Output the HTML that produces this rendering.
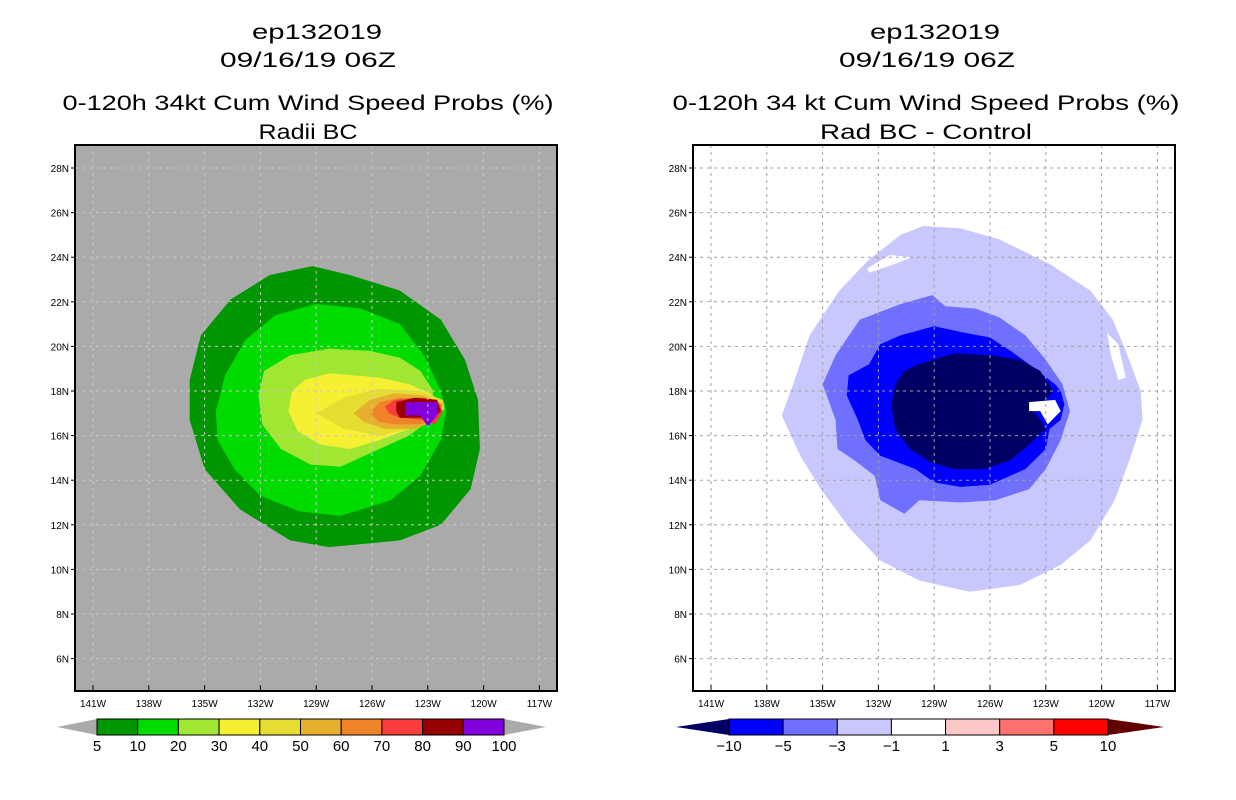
<!DOCTYPE html>
<html><head><meta charset="utf-8"><style>
html,body{margin:0;padding:0;background:#fff;}
svg{display:block;font-family:"Liberation Sans",sans-serif;}
</style></head><body>
<svg id="chart" width="1236" height="800" viewBox="0 0 1236 800"></svg>
<script>
const latTicks=[28,26,24,22,20,18,16,14,12,10,8,6];
const lonTicks=[141,138,135,132,129,126,123,120,117];
const leftLevels=['5','10','20','30','40','50','60','70','80','90','100'];
const leftColors=['#009600','#00dc00','#a0e632','#f5f032','#e6dc32','#e6af2d','#f08228','#fa3c3c','#960000','#8200dc'];
const rightLevels=['\u221210','\u22125','\u22123','\u22121','1','3','5','10'];
const rightColors=['#000064','#0000ff','#7070ff','#c8c8ff','#ffffff','#ffc8c8','#ff7070','#ff0000','#640000'];
// left contours [lonW, latN]
const p5=[[129.2,23.6],[127.2,23.2],[124.5,22.5],[122.3,21.2],[121.0,19.4],[120.3,17.6],[120.2,15.4],[120.7,13.6],[122.3,12.0],[124.5,11.3],[128.3,11.0],[130.4,11.3],[133.1,12.7],[135.0,14.5],[135.8,16.7],[135.8,18.5],[135.2,20.5],[133.6,22.1],[131.5,23.2]];
const p10=[[129.0,21.9],[126.6,21.7],[124.5,21.0],[123.2,19.6],[122.3,18.0],[122.0,17.1],[122.3,15.8],[123.4,14.2],[125.0,13.1],[127.7,12.4],[129.9,12.6],[132.0,13.3],[133.4,14.5],[134.3,15.8],[134.4,17.1],[133.9,18.7],[132.8,20.3],[131.2,21.4]];
const p20=[[128.3,19.9],[126.1,19.8],[124.5,19.5],[123.4,18.9],[122.7,18.0],[122.9,16.7],[124.0,16.0],[125.6,15.4],[127.7,14.6],[129.3,14.7],[130.9,15.4],[131.9,16.5],[132.1,17.8],[131.8,18.9],[130.4,19.6]];
const p30=[[128.3,18.8],[125.6,18.6],[124.0,18.3],[122.9,17.9],[122.1,17.4],[122.6,16.7],[124.0,16.3],[125.6,15.8],[127.2,15.4],[128.8,15.6],[130.0,16.2],[130.5,17.1],[130.3,18.0],[129.6,18.5]];
const p40=[[129.0,17.0],[127.5,17.7],[125.6,18.1],[123.4,18.0],[122.2,17.6],[122.1,17.2],[122.6,16.6],[124.0,16.3],[125.6,16.0],[127.5,16.3]];
const p50=[[127.0,17.0],[126.1,17.6],[124.8,17.9],[123.2,17.8],[122.2,17.4],[122.5,16.7],[123.7,16.3],[125.3,16.3],[126.4,16.6]];
const p60=[[126.1,17.0],[125.6,17.5],[124.5,17.7],[123.2,17.7],[122.2,17.4],[122.5,16.7],[123.4,16.5],[124.8,16.5],[125.6,16.6]];
const p70=[[125.3,17.3],[124.8,17.6],[123.4,17.7],[122.5,17.6],[122.2,17.1],[122.6,16.5],[123.2,16.7],[124.5,16.8],[125.1,17.0]];
const p80=[[124.7,17.5],[123.7,17.7],[122.5,17.6],[122.3,17.1],[122.9,16.6],[123.2,16.8],[124.5,16.8],[124.7,17.1]];
const p90=[[124.2,17.5],[122.5,17.5],[122.5,16.9],[123.0,16.4],[123.4,16.9],[124.2,16.9]];
// right contours
const dLight=[[129.6,25.4],[127.6,25.3],[125.5,24.8],[122.8,23.7],[120.6,22.5],[119.4,21.2],[118.7,19.8],[117.9,18.0],[117.8,16.7],[118.5,14.9],[119.3,13.1],[120.6,11.3],[122.2,10.2],[124.4,9.3],[127.1,9.0],[129.8,9.5],[131.9,10.4],[133.5,11.8],[135.1,13.6],[136.2,15.1],[137.2,16.9],[136.5,18.5],[135.7,20.5],[134.1,22.5],[132.5,23.9],[130.8,25.0]];
const dMed=[[129.1,22.3],[128.4,21.8],[126.8,21.7],[125.5,21.3],[124.1,20.5],[123.0,19.4],[122.1,18.3],[121.7,17.1],[122.2,15.8],[123.0,14.5],[123.9,13.6],[125.7,13.1],[127.6,13.0],[129.8,13.1],[130.6,12.5],[131.9,13.1],[132.2,14.2],[133.3,14.9],[134.2,15.4],[134.3,16.7],[135.0,18.3],[134.3,19.6],[133.0,21.2],[130.8,21.9]];
const dBlue=[[130.8,20.5],[129.0,20.9],[127.3,20.6],[126.0,20.4],[124.9,19.8],[123.9,19.2],[122.5,18.3],[122.2,18.0],[122.0,17.4],[122.2,16.7],[122.8,16.3],[123.0,15.4],[124.1,14.5],[126.0,13.8],[127.6,13.7],[129.0,13.9],[130.0,14.5],[131.9,15.1],[132.7,15.8],[133.1,16.7],[133.7,17.8],[133.6,18.7],[132.5,19.2],[131.9,20.1]];
const dNavy=[[129.8,19.2],[127.9,19.7],[126.0,19.6],[124.4,19.4],[123.3,18.9],[122.6,18.0],[123.0,17.6],[123.9,17.4],[123.3,16.7],[123.0,16.3],[123.9,15.6],[124.9,14.9],[126.3,14.5],[127.9,14.5],[129.2,14.8],[130.3,15.4],[131.1,16.3],[131.3,17.4],[131.1,18.3],[130.6,18.9]];
const dWhite=[[123.9,17.5],[122.5,17.6],[122.2,17.1],[122.9,16.5],[123.3,17.1],[123.9,17.1]];
const hole1=[[132.6,23.5],[131.4,24.1],[130.2,24.0],[131.1,23.7],[132.5,23.3]];
const hole2=[[119.7,20.6],[119.1,20.1],[118.7,18.6],[119.1,18.5],[119.5,19.6]];

const NS='http://www.w3.org/2000/svg';
const svg=document.getElementById('chart');
function mk(tag,attrs,parent){const e=document.createElementNS(NS,tag);for(const k in attrs)e.setAttribute(k,attrs[k]);(parent||svg).appendChild(e);return e;}
function txt(s,x,y,size,anchor,len,parent){const t=mk('text',{x:x,y:y,'font-size':size,'text-anchor':anchor||'middle',fill:'#000'},parent);if(len){t.setAttribute('textLength',len);t.setAttribute('lengthAdjust','spacingAndGlyphs');}t.textContent=s;return t;}

function panel(x0,name,bg,gridColor,titles,polys){
  const g=mk('g',{});
  
  
  const left=x0, right=x0+482, top=145, bottom=691;
  const xs=lon=>x0+18+(141-lon)*18.6;
  const ys=lat=>168+(28-lat)*22.3;
  const bgr=mk('rect',{x:left,y:top,width:482,height:546,fill:bg},g);
  
  
  polys.forEach(p=>{
    const pl=mk('polygon',{points:p.pts.map(q=>xs(q[0]).toFixed(1)+','+ys(q[1]).toFixed(1)).join(' '),fill:p.c},g);
    
    
  });
  lonTicks.forEach(l=>{
    const x=xs(l);
    const gl=mk('line',{x1:x,y1:top,x2:x,y2:bottom,stroke:gridColor,'stroke-width':1,'stroke-dasharray':'3,4'},g);
    
    
    mk('line',{x1:x,y1:bottom-6,x2:x,y2:bottom,stroke:'#000'},g);
    const t=txt(l+'W',x,707,10,'middle',null,g);
    
    
  });
  latTicks.forEach(l=>{
    const y=ys(l);
    const gl=mk('line',{x1:left,y1:y,x2:right,y2:y,stroke:gridColor,'stroke-width':1,'stroke-dasharray':'3,4'},g);
    
    
    mk('line',{x1:left-4,y1:y,x2:left,y2:y,stroke:'#000'},g);
    const t=txt(l+'N',left-6,y+4,10,'end',null,g);
    
    
  });
  const fr=mk('rect',{x:left,y:top,width:482,height:546,fill:'none',stroke:'#000','stroke-width':2},g);
  
  
  titles.forEach(t=>{const e=txt(t.s,t.cx,t.y,21,'middle',t.w,g);});
}

panel(75,'left-panel','#aaaaaa','#c8c8c8',[
 {s:'ep132019',cx:317,y:39,w:130},{s:'09/16/19 06Z',cx:308,y:67,w:176},
 {s:'0-120h 34kt Cum Wind Speed Probs (%)',cx:308,y:110,w:491},{s:'Radii BC',cx:308,y:139,w:99}],
 [{pts:p5,c:leftColors[0],n:'contour-5'},{pts:p10,c:leftColors[1],n:'contour-10'},{pts:p20,c:leftColors[2],n:'contour-20'},{pts:p30,c:leftColors[3],n:'contour-30'},{pts:p40,c:leftColors[4],n:'contour-40'},{pts:p50,c:leftColors[5],n:'contour-50'},{pts:p60,c:leftColors[6],n:'contour-60'},{pts:p70,c:leftColors[7],n:'contour-70'},{pts:p80,c:leftColors[8],n:'contour-80'},{pts:p90,c:leftColors[9],n:'contour-90'}]);

panel(693,'right-panel','#ffffff','#a0a0a0',[
 {s:'ep132019',cx:935,y:39,w:130},{s:'09/16/19 06Z',cx:927,y:67,w:176},
 {s:'0-120h 34 kt Cum Wind Speed Probs (%)',cx:926,y:110,w:507},{s:'Rad BC - Control',cx:926,y:139,w:212}],
 [{pts:dLight,c:rightColors[3],n:'diff-contour-minus1'},{pts:hole1,c:'#ffffff',n:'diff-hole'},{pts:hole2,c:'#ffffff',n:'diff-hole'},{pts:dMed,c:rightColors[2],n:'diff-contour-minus3'},{pts:dBlue,c:rightColors[1],n:'diff-contour-minus5'},{pts:dNavy,c:rightColors[0],n:'diff-contour-minus10'},{pts:dWhite,c:'#ffffff',n:'diff-contour-neutral'}]);

function colorbar(name,tipL,x0,x1,tipR,colors,labels,hasEndColors){
  const g=mk('g',{});
  
  
  const y0=719,y1=735,ym=727;
  const inner=hasEndColors?colors.slice(1,-1):colors;
  const lc=hasEndColors?colors[0]:'#aaaaaa', rc=hasEndColors?colors[colors.length-1]:'#aaaaaa';
  const lt=mk('polygon',{points:`${tipL},${ym} ${x0},${y0} ${x0},${y1}`,fill:lc},g);
  
  
  const rt=mk('polygon',{points:`${tipR},${ym} ${x1},${y0} ${x1},${y1}`,fill:rc},g);
  
  
  const w=(x1-x0)/inner.length;
  inner.forEach((c,i)=>{
    const r=mk('rect',{x:x0+i*w,y:y0,width:w,height:y1-y0,fill:c,stroke:'#000','stroke-width':1},g);
    
    
  });
  labels.forEach((s,i)=>{
    const x=hasEndColors?x0+i*w:x0+i*w;
    const t=txt(s,x,751,15,'middle',null,g);
    
    
  });
}
colorbar('left-colorbar',57,97,504,546,leftColors,leftLevels,false);
colorbar('right-colorbar',676,729,1108,1164,rightColors,rightLevels,true);
</script>
</body></html>
